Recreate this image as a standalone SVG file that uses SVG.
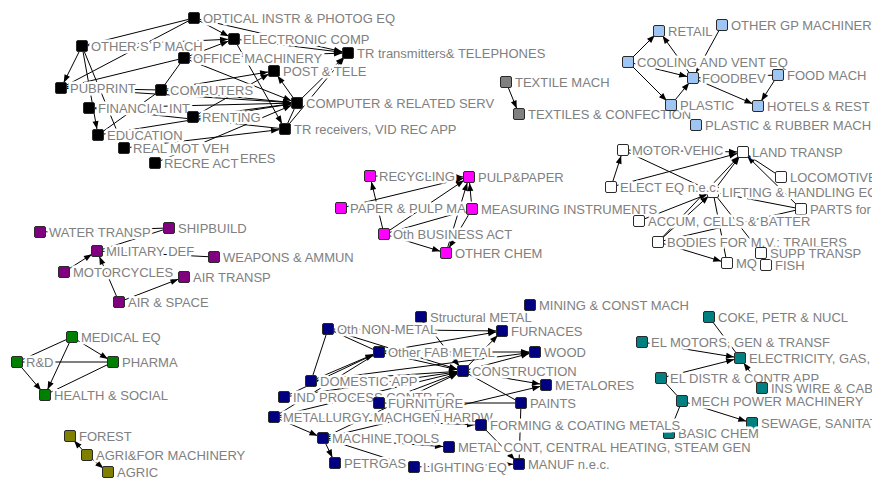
<svg xmlns="http://www.w3.org/2000/svg" width="872" height="478" viewBox="0 0 872 478">
<style>
text{font-family:"Liberation Sans",Arial,sans-serif;font-size:13px;fill:#808080;stroke:#fff;stroke-width:5px;stroke-linejoin:round;paint-order:stroke}
g rect{stroke:#2a2a2a;stroke-width:1}
.k rect{fill:#000}.g rect{fill:#808080}.b rect{fill:#9fc5f2}.p rect{fill:#800080}.m rect{fill:#ff00ff}
.w rect{fill:#fff}.nv rect{fill:#000080}.gr rect{fill:#008000}.o rect{fill:#808000}.t rect{fill:#008080}
#edges line{stroke:#000;stroke-width:1}
#edges line.a{marker-end:url(#ah)}
</style>
<defs>
<marker id="ah" viewBox="0 0 8 6" refX="14" refY="3" markerWidth="8" markerHeight="6" markerUnits="userSpaceOnUse" orient="auto" overflow="visible"><path d="M0,0 L8,3 L0,6 z" fill="#000"/></marker>
</defs>
<rect x="0" y="0" width="872" height="478" fill="#fff" style="stroke:none"/>
<g id="edges">
<line class="a" x1="82" y1="46" x2="61" y2="88"/>
<line class="a" x1="82" y1="46" x2="98" y2="135"/>
<line x1="82" y1="46" x2="124" y2="148"/>
<line x1="82" y1="46" x2="194" y2="18"/>
<line class="a" x1="82" y1="46" x2="234" y2="39"/>
<line class="a" x1="194" y1="18" x2="234" y2="39"/>
<line class="a" x1="194" y1="18" x2="348" y2="53"/>
<line class="a" x1="184" y1="58" x2="234" y2="39"/>
<line x1="184" y1="58" x2="61" y2="88"/>
<line x1="184" y1="58" x2="161" y2="90"/>
<line class="a" x1="184" y1="58" x2="297" y2="103"/>
<line class="a" x1="184" y1="58" x2="348" y2="53"/>
<line class="a" x1="234" y1="39" x2="348" y2="53"/>
<line class="a" x1="234" y1="39" x2="285" y2="129"/>
<line class="a" x1="161" y1="90" x2="274" y2="71"/>
<line class="a" x1="193" y1="117" x2="274" y2="71"/>
<line class="a" x1="297" y1="103" x2="274" y2="71"/>
<line class="a" x1="297" y1="103" x2="348" y2="53"/>
<line class="a" x1="285" y1="129" x2="348" y2="53"/>
<line x1="61" y1="88" x2="161" y2="90"/>
<line class="a" x1="61" y1="88" x2="297" y2="103"/>
<line class="a" x1="161" y1="90" x2="297" y2="103"/>
<line class="a" x1="89" y1="108" x2="297" y2="103"/>
<line x1="89" y1="108" x2="285" y2="129"/>
<line class="a" x1="193" y1="117" x2="297" y2="103"/>
<line class="a" x1="98" y1="135" x2="297" y2="103"/>
<line class="a" x1="124" y1="148" x2="285" y2="129"/>
<line class="a" x1="155" y1="163" x2="297" y2="103"/>
<line x1="285" y1="129" x2="297" y2="103"/>
<line x1="161" y1="90" x2="98" y2="135"/>
<line x1="61" y1="88" x2="194" y2="18"/>
<line class="a" x1="506" y1="82" x2="519" y2="114"/>
<line class="a" x1="628" y1="62" x2="659" y2="31"/>
<line class="a" x1="693" y1="78" x2="659" y2="31"/>
<line class="a" x1="628" y1="62" x2="693" y2="78"/>
<line class="a" x1="628" y1="62" x2="671" y2="105"/>
<line class="a" x1="671" y1="105" x2="693" y2="78"/>
<line class="a" x1="722" y1="25" x2="693" y2="78"/>
<line class="a" x1="693" y1="78" x2="758" y2="106"/>
<line x1="778" y1="75" x2="693" y2="78"/>
<line class="a" x1="778" y1="75" x2="758" y2="106"/>
<line x1="40" y1="232" x2="169" y2="228"/>
<line x1="97" y1="251" x2="169" y2="228"/>
<line class="a" x1="64" y1="272" x2="97" y2="251"/>
<line class="a" x1="119" y1="302" x2="97" y2="251"/>
<line x1="97" y1="251" x2="214" y2="257"/>
<line class="a" x1="119" y1="302" x2="184" y2="277"/>
<line class="a" x1="384" y1="234" x2="370" y2="176"/>
<line class="a" x1="370" y1="176" x2="469" y2="177"/>
<line class="a" x1="341" y1="208" x2="469" y2="177"/>
<line class="a" x1="384" y1="234" x2="469" y2="177"/>
<line class="a" x1="472" y1="209" x2="469" y2="177"/>
<line class="a" x1="446" y1="253" x2="469" y2="177"/>
<line x1="384" y1="234" x2="472" y2="209"/>
<line class="a" x1="384" y1="234" x2="446" y2="253"/>
<line class="a" x1="472" y1="209" x2="446" y2="253"/>
<line class="a" x1="611" y1="187" x2="623" y2="150"/>
<line class="a" x1="623" y1="150" x2="743" y2="152"/>
<line class="a" x1="611" y1="187" x2="743" y2="152"/>
<line x1="623" y1="150" x2="713" y2="192"/>
<line class="a" x1="713" y1="192" x2="743" y2="152"/>
<line class="a" x1="658" y1="242" x2="743" y2="152"/>
<line class="a" x1="781" y1="177" x2="743" y2="152"/>
<line class="a" x1="801" y1="209" x2="743" y2="152"/>
<line class="a" x1="639" y1="221" x2="713" y2="192"/>
<line class="a" x1="658" y1="242" x2="713" y2="192"/>
<line x1="713" y1="192" x2="801" y2="209"/>
<line x1="658" y1="242" x2="801" y2="209"/>
<line class="a" x1="658" y1="242" x2="727" y2="263"/>
<line x1="713" y1="192" x2="727" y2="263"/>
<line x1="713" y1="192" x2="761" y2="253"/>
<line class="a" x1="72" y1="337" x2="113" y2="362"/>
<line class="a" x1="72" y1="337" x2="45" y2="395"/>
<line class="a" x1="17" y1="362" x2="45" y2="395"/>
<line x1="17" y1="362" x2="113" y2="362"/>
<line x1="17" y1="362" x2="72" y2="337"/>
<line x1="113" y1="362" x2="45" y2="395"/>
<line class="a" x1="87" y1="455" x2="70" y2="436"/>
<line class="a" x1="87" y1="455" x2="108" y2="472"/>
<line class="a" x1="328" y1="329" x2="502" y2="331"/>
<line class="a" x1="379" y1="352" x2="502" y2="331"/>
<line class="a" x1="379" y1="352" x2="535" y2="352"/>
<line class="a" x1="463" y1="371" x2="535" y2="352"/>
<line class="a" x1="311" y1="381" x2="535" y2="352"/>
<line class="a" x1="463" y1="371" x2="502" y2="331"/>
<line x1="328" y1="329" x2="379" y2="352"/>
<line class="a" x1="328" y1="329" x2="463" y2="371"/>
<line x1="328" y1="329" x2="311" y2="381"/>
<line class="a" x1="311" y1="381" x2="379" y2="352"/>
<line class="a" x1="379" y1="352" x2="463" y2="371"/>
<line class="a" x1="311" y1="381" x2="463" y2="371"/>
<line class="a" x1="284" y1="397" x2="463" y2="371"/>
<line class="a" x1="379" y1="403" x2="463" y2="371"/>
<line class="a" x1="274" y1="417" x2="463" y2="371"/>
<line class="a" x1="323" y1="438" x2="463" y2="371"/>
<line class="a" x1="284" y1="397" x2="379" y2="352"/>
<line x1="274" y1="417" x2="379" y2="352"/>
<line class="a" x1="421" y1="317" x2="463" y2="371"/>
<line class="a" x1="463" y1="371" x2="546" y2="385"/>
<line class="a" x1="323" y1="438" x2="546" y2="385"/>
<line x1="379" y1="403" x2="521" y2="403"/>
<line x1="463" y1="371" x2="521" y2="403"/>
<line class="a" x1="274" y1="417" x2="323" y2="438"/>
<line class="a" x1="323" y1="438" x2="335" y2="463"/>
<line class="a" x1="323" y1="438" x2="449" y2="447"/>
<line x1="414" y1="467" x2="323" y2="438"/>
<line class="a" x1="274" y1="417" x2="481" y2="425"/>
<line class="a" x1="414" y1="467" x2="519" y2="464"/>
<line class="a" x1="481" y1="425" x2="519" y2="464"/>
<line x1="521" y1="403" x2="519" y2="464"/>
<line x1="709" y1="317" x2="740" y2="358"/>
<line class="a" x1="642" y1="342" x2="740" y2="358"/>
<line class="a" x1="661" y1="378" x2="740" y2="358"/>
<line class="a" x1="762" y1="388" x2="740" y2="358"/>
<line class="a" x1="682" y1="401" x2="752" y2="423"/>
<line x1="682" y1="401" x2="661" y2="378"/>
<line x1="682" y1="401" x2="669" y2="433"/>
</g>
<g id="n1" class="k"><rect x="188.5" y="12.5" width="11" height="11" rx="1.5"/><text x="203" y="23">OPTICAL INSTR &amp; PHOTOG EQ</text></g>
<g id="n2" class="k"><rect x="228.5" y="33.5" width="11" height="11" rx="1.5"/><text x="243" y="44">ELECTRONIC COMP</text></g>
<g id="n3" class="k"><rect x="76.5" y="40.5" width="11" height="11" rx="1.5"/><text x="91" y="51">OTHER S P MACH</text></g>
<g id="n4" class="k"><rect x="178.5" y="52.5" width="11" height="11" rx="1.5"/><text x="193" y="63">OFFICE MACHINERY</text></g>
<g id="n5" class="k"><rect x="342.5" y="47.5" width="11" height="11" rx="1.5"/><text x="357" y="58">TR transmitters&amp; TELEPHONES</text></g>
<g id="n6" class="k"><rect x="268.5" y="65.5" width="11" height="11" rx="1.5"/><text x="283" y="76">POST &amp; TELE</text></g>
<g id="n7" class="k"><rect x="55.5" y="82.5" width="11" height="11" rx="1.5"/><text x="70" y="93">PUBPRINT</text></g>
<g id="n8" class="k"><rect x="155.5" y="84.5" width="11" height="11" rx="1.5"/><text x="170" y="95">COMPUTERS</text></g>
<g id="n9" class="k"><rect x="291.5" y="97.5" width="11" height="11" rx="1.5"/><text x="306" y="108">COMPUTER &amp; RELATED SERV</text></g>
<g id="n10" class="k"><rect x="83.5" y="102.5" width="11" height="11" rx="1.5"/><text x="98" y="113">FINANCIAL INT</text></g>
<g id="n11" class="k"><rect x="187.5" y="111.5" width="11" height="11" rx="1.5"/><text x="202" y="122">RENTING</text></g>
<g id="n12" class="k"><rect x="279.5" y="123.5" width="11" height="11" rx="1.5"/><text x="294" y="134">TR receivers, VID REC APP</text></g>
<g id="n13" class="k"><rect x="92.5" y="129.5" width="11" height="11" rx="1.5"/><text x="107" y="140">EDUCATION</text></g>
<g id="n14" class="k"><rect x="118.5" y="142.5" width="11" height="11" rx="1.5"/><text x="133" y="153">REAL MOT VEH</text></g>
<g id="n15x" class="k"><text x="240" y="163">ERES</text></g>
<g id="n15" class="k"><rect x="149.5" y="157.5" width="11" height="11" rx="1.5"/><text x="164" y="168">RECRE  ACT</text></g>
<g id="n16" class="g"><rect x="500.5" y="76.5" width="11" height="11" rx="1.5"/><text x="515" y="87">TEXTILE MACH</text></g>
<g id="n17" class="g"><rect x="513.5" y="108.5" width="11" height="11" rx="1.5"/><text x="528" y="119">TEXTILES &amp; CONFECTION</text></g>
<g id="n18" class="b"><rect x="653.5" y="25.5" width="11" height="11" rx="1.5"/><text x="668" y="36">RETAIL</text></g>
<g id="n19" class="b"><rect x="716.5" y="19.5" width="11" height="11" rx="1.5"/><text x="731" y="30">OTHER GP MACHINERY</text></g>
<g id="n20" class="b"><rect x="622.5" y="56.5" width="11" height="11" rx="1.5"/><text x="637" y="67">COOLING AND VENT EQ</text></g>
<g id="n21" class="b"><rect x="687.5" y="72.5" width="11" height="11" rx="1.5"/><text x="702" y="83">FOODBEV</text></g>
<g id="n22" class="b"><rect x="772.5" y="69.5" width="11" height="11" rx="1.5"/><text x="787" y="80">FOOD MACH</text></g>
<g id="n23" class="b"><rect x="665.5" y="99.5" width="11" height="11" rx="1.5"/><text x="680" y="110">PLASTIC</text></g>
<g id="n24" class="b"><rect x="752.5" y="100.5" width="11" height="11" rx="1.5"/><text x="767" y="111">HOTELS &amp; REST</text></g>
<g id="n25" class="b"><rect x="690.5" y="119.5" width="11" height="11" rx="1.5"/><text x="705" y="130">PLASTIC &amp; RUBBER MACH</text></g>
<g id="n26" class="p"><rect x="34.5" y="226.5" width="11" height="11" rx="1.5"/><text x="49" y="237">WATER TRANSP</text></g>
<g id="n27" class="p"><rect x="163.5" y="222.5" width="11" height="11" rx="1.5"/><text x="178" y="233">SHIPBUILD</text></g>
<g id="n28" class="p"><rect x="91.5" y="245.5" width="11" height="11" rx="1.5"/><text x="106" y="256">MILITARY DEF</text></g>
<g id="n29" class="p"><rect x="208.5" y="251.5" width="11" height="11" rx="1.5"/><text x="223" y="262">WEAPONS &amp; AMMUN</text></g>
<g id="n30" class="p"><rect x="58.5" y="266.5" width="11" height="11" rx="1.5"/><text x="73" y="277">MOTORCYCLES</text></g>
<g id="n31" class="p"><rect x="178.5" y="271.5" width="11" height="11" rx="1.5"/><text x="193" y="282">AIR TRANSP</text></g>
<g id="n32" class="p"><rect x="113.5" y="296.5" width="11" height="11" rx="1.5"/><text x="128" y="307">AIR &amp; SPACE</text></g>
<g id="n33" class="m"><rect x="364.5" y="170.5" width="11" height="11" rx="1.5"/><text x="379" y="181">RECYCLING</text></g>
<g id="n34" class="m"><rect x="463.5" y="171.5" width="11" height="11" rx="1.5"/><text x="478" y="182">PULP&amp;PAPER</text></g>
<g id="n35" class="m"><rect x="335.5" y="202.5" width="11" height="11" rx="1.5"/><text x="350" y="213">PAPER &amp; PULP MAC</text></g>
<g id="n36" class="m"><rect x="466.5" y="203.5" width="11" height="11" rx="1.5"/><text x="481" y="214">MEASURING INSTRUMENTS</text></g>
<g id="n37" class="m"><rect x="378.5" y="228.5" width="11" height="11" rx="1.5"/><text x="393" y="239">Oth BUSINESS ACT</text></g>
<g id="n38" class="m"><rect x="440.5" y="247.5" width="11" height="11" rx="1.5"/><text x="455" y="258">OTHER CHEM</text></g>
<g id="n39" class="w"><rect x="617.5" y="144.5" width="11" height="11" rx="1.5"/><text x="632" y="155">MOTOR VEHIC</text></g>
<g id="n40" class="w"><rect x="737.5" y="146.5" width="11" height="11" rx="1.5"/><text x="752" y="157">LAND TRANSP</text></g>
<g id="n42" class="w"><rect x="775.5" y="171.5" width="11" height="11" rx="1.5"/><text x="790" y="182">LOCOMOTIVE</text></g>
<g id="n43" class="w"><rect x="707.5" y="186.5" width="11" height="11" rx="1.5"/><text x="722" y="197">LIFTING &amp; HANDLING EQ</text></g>
<g id="n41" class="w"><rect x="605.5" y="181.5" width="11" height="11" rx="1.5"/><text x="620" y="192">ELECT EQ n.e.c.</text></g>
<g id="n44" class="w"><rect x="795.5" y="203.5" width="11" height="11" rx="1.5"/><text x="810" y="214">PARTS for</text></g>
<g id="n45" class="w"><rect x="633.5" y="215.5" width="11" height="11" rx="1.5"/><text x="648" y="226">ACCUM, CELLS &amp; BATTER</text></g>
<g id="n46" class="w"><rect x="652.5" y="236.5" width="11" height="11" rx="1.5"/><text x="667" y="247">BODIES FOR M.V.: TRAILERS</text></g>
<g id="n48" class="w"><rect x="721.5" y="257.5" width="11" height="11" rx="1.5"/><text x="736" y="268">MQ</text></g>
<g id="n49" class="w"><rect x="760.5" y="259.5" width="11" height="11" rx="1.5"/><text x="775" y="270">FISH</text></g>
<g id="n47" class="w"><rect x="755.5" y="247.5" width="11" height="11" rx="1.5"/><text x="770" y="258">SUPP TRANSP</text></g>
<g id="n50" class="gr"><rect x="66.5" y="331.5" width="11" height="11" rx="1.5"/><text x="81" y="342">MEDICAL EQ</text></g>
<g id="n51" class="gr"><rect x="11.5" y="356.5" width="11" height="11" rx="1.5"/><text x="26" y="367">R&amp;D</text></g>
<g id="n52" class="gr"><rect x="107.5" y="356.5" width="11" height="11" rx="1.5"/><text x="122" y="367">PHARMA</text></g>
<g id="n53" class="gr"><rect x="39.5" y="389.5" width="11" height="11" rx="1.5"/><text x="54" y="400">HEALTH &amp; SOCIAL</text></g>
<g id="n54" class="o"><rect x="64.5" y="430.5" width="11" height="11" rx="1.5"/><text x="79" y="441">FOREST</text></g>
<g id="n55" class="o"><rect x="81.5" y="449.5" width="11" height="11" rx="1.5"/><text x="96" y="460">AGRI&amp;FOR MACHINERY</text></g>
<g id="n56" class="o"><rect x="102.5" y="466.5" width="11" height="11" rx="1.5"/><text x="117" y="477">AGRIC</text></g>
<g id="n57" class="nv"><rect x="415.5" y="311.5" width="11" height="11" rx="1.5"/><text x="430" y="322">Structural METAL</text></g>
<g id="n58" class="nv"><rect x="322.5" y="323.5" width="11" height="11" rx="1.5"/><text x="337" y="334">Oth NON-METAL</text></g>
<g id="n59" class="nv"><rect x="524.5" y="299.5" width="11" height="11" rx="1.5"/><text x="539" y="310">MINING &amp; CONST MACH</text></g>
<g id="n60" class="nv"><rect x="496.5" y="325.5" width="11" height="11" rx="1.5"/><text x="511" y="336">FURNACES</text></g>
<g id="n61" class="nv"><rect x="373.5" y="346.5" width="11" height="11" rx="1.5"/><text x="388" y="357">Other FAB METAL</text></g>
<g id="n62" class="nv"><rect x="529.5" y="346.5" width="11" height="11" rx="1.5"/><text x="544" y="357">WOOD</text></g>
<g id="n63" class="nv"><rect x="457.5" y="365.5" width="11" height="11" rx="1.5"/><text x="472" y="376">CONSTRUCTION</text></g>
<g id="n64" class="nv"><rect x="305.5" y="375.5" width="11" height="11" rx="1.5"/><text x="320" y="386">DOMESTIC APP</text></g>
<g id="n65" class="nv"><rect x="540.5" y="379.5" width="11" height="11" rx="1.5"/><text x="555" y="390">METALORES</text></g>
<g id="n66" class="nv"><rect x="278.5" y="391.5" width="11" height="11" rx="1.5"/><text x="293" y="402">IND PROCESS CONTR EQ</text></g>
<g id="n67" class="nv"><rect x="373.5" y="397.5" width="11" height="11" rx="1.5"/><text x="388" y="408">FURNITURE</text></g>
<g id="n68" class="nv"><rect x="515.5" y="397.5" width="11" height="11" rx="1.5"/><text x="530" y="408">PAINTS</text></g>
<g id="n69" class="nv"><rect x="268.5" y="411.5" width="11" height="11" rx="1.5"/><text x="283" y="422">METALLURGY MACHGEN HARDW</text></g>
<g id="n71" class="nv"><rect x="317.5" y="432.5" width="11" height="11" rx="1.5"/><text x="332" y="443">MACHINE TOOLS</text></g>
<g id="n72" class="nv"><rect x="443.5" y="441.5" width="11" height="11" rx="1.5"/><text x="458" y="452">METAL CONT, CENTRAL HEATING, STEAM GEN</text></g>
<g id="n73" class="nv"><rect x="329.5" y="457.5" width="11" height="11" rx="1.5"/><text x="344" y="468">PETRGAS</text></g>
<g id="n74" class="nv"><rect x="408.5" y="461.5" width="11" height="11" rx="1.5"/><text x="423" y="472">LIGHTING EQ</text></g>
<g id="n75" class="nv"><rect x="513.5" y="458.5" width="11" height="11" rx="1.5"/><text x="528" y="469">MANUF n.e.c.</text></g>
<g id="n76" class="t"><rect x="703.5" y="311.5" width="11" height="11" rx="1.5"/><text x="718" y="322">COKE, PETR &amp; NUCL</text></g>
<g id="n77" class="t"><rect x="636.5" y="336.5" width="11" height="11" rx="1.5"/><text x="651" y="347">EL MOTORS, GEN &amp; TRANSF</text></g>
<g id="n78" class="t"><rect x="734.5" y="352.5" width="11" height="11" rx="1.5"/><text x="749" y="363">ELECTRICITY, GAS,</text></g>
<g id="n79" class="t"><rect x="655.5" y="372.5" width="11" height="11" rx="1.5"/><text x="670" y="383">EL DISTR &amp; CONTR APP</text></g>
<g id="n80" class="t"><rect x="756.5" y="382.5" width="11" height="11" rx="1.5"/><text x="771" y="393">INS WIRE &amp; CAB</text></g>
<g id="n81" class="t"><rect x="676.5" y="395.5" width="11" height="11" rx="1.5"/><text x="691" y="406">MECH POWER MACHINERY</text></g>
<g id="n82" class="t"><rect x="746.5" y="417.5" width="11" height="11" rx="1.5"/><text x="761" y="428">SEWAGE, SANITAT</text></g>
<g id="n83" class="t"><rect x="663.5" y="427.5" width="11" height="11" rx="1.5"/><text x="678" y="438">BASIC CHEM</text></g>
<g id="n70" class="nv"><rect x="475.5" y="419.5" width="11" height="11" rx="1.5"/><text x="490" y="430">FORMING &amp; COATING METALS</text></g>
</svg>
